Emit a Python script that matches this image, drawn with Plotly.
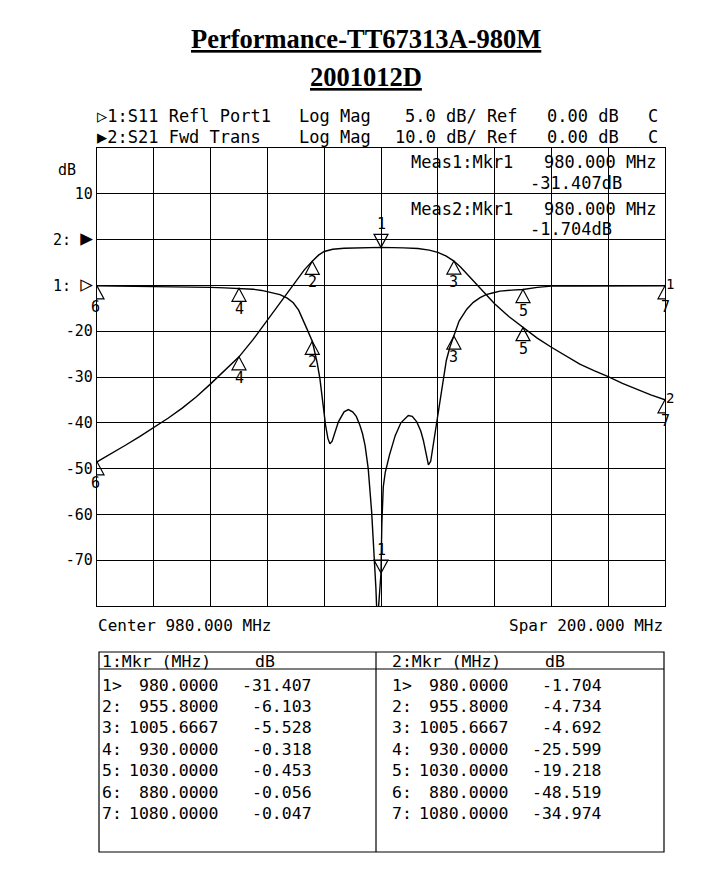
import plotly.graph_objects as go

# ---------------- data ----------------
freq_s11 = [880, 890, 900, 910, 920, 925, 930, 935, 938, 941, 944.4, 947, 949.1, 951, 952.5,
            954, 955.8, 957.5, 958.5, 959.7, 960.5, 961.3, 962.0, 962.8, 963.5, 965, 967,
            968.5, 970, 971.3, 972.6, 973.5, 974.4, 975.5, 976.7, 977.6, 978.2, 978.7,
            979.3, 980.0, 980.3, 980.8, 981.5, 983, 985, 987, 989.6, 991, 992.6, 994,
            994.9, 996, 996.7, 997.5, 998.3, 999, 1000.2, 1001.9, 1003, 1004.3, 1005.67,
            1007.5, 1010.2, 1012.5, 1014.9, 1017, 1019.6, 1021.9, 1026, 1030, 1035, 1040,
            1050, 1060, 1070, 1080]
s11_db = [-0.056, -0.08, -0.1, -0.15, -0.22, -0.27, -0.318, -0.42, -0.55, -0.75, -1.0, -1.4,
          -1.9, -2.7, -3.7, -4.8, -6.103, -8.4, -10.2, -13.3, -15.3, -16.7, -17.3, -17.0,
          -16.3, -14.9, -13.8, -13.55, -13.8, -14.3, -15.3, -16.2, -17.5, -20.0, -24.7,
          -29.1, -33.0, -37.0, -34.5, -31.407, -26.0, -22.0, -20.4, -18.5, -16.4, -15.0,
          -14.2, -14.3, -14.9, -15.9, -16.9, -18.6, -19.6, -19.2, -17.6, -15.7, -13.7,
          -10.2, -8.2, -6.7, -5.528, -3.9, -2.6, -1.85, -1.34, -1.0, -0.8, -0.62, -0.52,
          -0.453, -0.22, -0.08, -0.06, -0.05, -0.05, -0.047]

freq_s21 = [880, 885, 890, 895, 900, 905, 910, 915, 920, 925, 930, 935, 940, 945, 950, 953,
            955.8, 958, 960, 963, 967, 972, 980, 988, 993, 997, 1000, 1003, 1005.67, 1008,
            1011, 1015, 1020, 1025, 1030, 1035, 1040, 1045, 1050, 1055, 1060, 1065, 1070,
            1075, 1080]
s21_db = [-48.519, -46.8, -44.9, -43.0, -41.0, -39.0, -36.8, -34.3, -31.5, -28.6, -25.599,
          -21.8, -17.5, -13.2, -9.0, -6.6, -4.734, -3.4, -2.6, -2.1, -1.9, -1.8, -1.704,
          -1.8, -1.95, -2.3, -2.8, -3.6, -4.692, -6.0, -8.0, -10.8, -14.0, -16.8, -19.218,
          -21.5, -23.5, -25.4, -27.2, -28.6, -29.9, -31.4, -32.7, -33.9, -34.974]

mkr_ids = ["1", "2", "3", "4", "5", "6", "7"]
mkr_prefix = ["1>", "2:", "3:", "4:", "5:", "6:", "7:"]
mkr_freq = [980.0, 955.8, 1005.6667, 930.0, 1030.0, 880.0, 1080.0]
mkr_s11 = [-31.407, -6.103, -5.528, -0.318, -0.453, -0.056, -0.047]
mkr_s21 = [-1.704, -4.734, -4.692, -25.599, -19.218, -48.519, -34.974]

TRI_F = "<span style='font-size:21px'>\u25B6</span>"
TRI_O = "<span style='font-size:21px'>\u25B7</span>"
y_tickvals = [10, 0, -10, -20, -30, -40, -50, -60, -70]
y_ticktext = ["10", "2: " + TRI_F, "1: " + TRI_O, "-20", "-30", "-40", "-50", "-60", "-70"]

title_1 = "Performance-TT67313A-980M"
title_2 = "2001012D"

# ---------------- layout helpers ----------------
OFF = 8  # page body margin of the browser
W, H = 711 - OFF, 889 - OFF
L, R, T, B = 97 - OFF, 665 - OFF, 148 - OFF, 606 - OFF
MONO = "DejaVu Sans Mono"


def px(x):
    return (x - OFF - L) / (R - L)


def py(y):
    return (B - (y - OFF)) / (B - T)


fig = go.Figure()
fig.add_trace(go.Scatter(x=freq_s21, y=s21_db, mode="lines", yaxis="y",
                         line=dict(color="black", width=1.4), hoverinfo="skip"))
fig.add_trace(go.Scatter(x=freq_s11, y=s11_db, mode="lines", yaxis="y2",
                         line=dict(color="black", width=1.4), hoverinfo="skip"))

shapes = []
ann = []

# marker triangles + labels
for trace_ref, vals in (("y2", mkr_s11), ("y", mkr_s21)):
    for i, (f, v) in enumerate(zip(mkr_freq, vals)):
        if i == 0:
            path = "M0,0 L-7,13 L7,13 Z"
            yshift = 23
        else:
            path = "M0,0 L-7,-13 L7,-13 Z"
            yshift = -21
        shapes.append(dict(type="path", xref="x", yref=trace_ref, xsizemode="pixel",
                           ysizemode="pixel", xanchor=f, yanchor=v, path=path,
                           line=dict(color="black", width=1.2), layer="above"))
        ann.append(dict(x=f, y=v, xref="x", yref=trace_ref, text=mkr_ids[i],
                        showarrow=False, yshift=yshift, xshift=-2 if i == 5 else 0,
                        font=dict(family=MONO, size=15, color="black")))

# trace number tags at the right end
ann.append(dict(x=freq_s11[-1], y=s11_db[-1], xref="x", yref="y2", text="1", showarrow=False,
                xshift=5, yshift=2, font=dict(family=MONO, size=14, color="black")))
ann.append(dict(x=freq_s21[-1], y=s21_db[-1], xref="x", yref="y", text="2", showarrow=False,
                xshift=5, yshift=2, font=dict(family=MONO, size=14, color="black")))


def text(x, y, s, size=17, anchor="left", family=MONO):
    ann.append(dict(x=px(x), y=py(y), xref="paper", yref="paper", text=s, showarrow=False,
                    xanchor=anchor, yanchor="middle",
                    font=dict(family=family, size=size, color="black")))


# titles
text(366, 39, "<b><u>" + title_1 + "</u></b>", size=26.5, anchor="center", family="Liberation Serif")
text(366, 77, "<b><u>" + title_2 + "</u></b>", size=26.5, anchor="center", family="Liberation Serif")

# header rows
text(95, 116, "\u25B71:S11 Refl Port1")
text(297, 116, "Log Mag")
text(403, 116, "5.0 dB/ Ref")
text(545, 116, "0.00 dB")
text(646, 116, "C")
text(95, 137, "\u25B62:S21 Fwd Trans")
text(297, 137, "Log Mag")
text(393, 137, "10.0 dB/ Ref")
text(545, 137, "0.00 dB")
text(646, 137, "C")

text(56, 170, "dB", size=15)

# measurement readouts
text(409, 162, "Meas1:Mkr1")
text(542, 162, "980.000 MHz")
text(528, 183, "-31.407dB")
text(409, 209, "Meas2:Mkr1")
text(542, 209, "980.000 MHz")
text(528, 229, "-1.704dB")

# center / span
text(96, 625, "Center 980.000 MHz", size=16)
text(665, 625, "Spar 200.000 MHz", size=16, anchor="right")

# marker table
tb_l, tb_r, tb_t, tb_b, tb_mid, tb_hdr = 99, 664, 652, 852, 376, 669
shapes.append(dict(type="rect", xref="paper", yref="paper", x0=px(tb_l), x1=px(tb_r),
                   y0=py(tb_t), y1=py(tb_b), line=dict(color="black", width=1.2)))
shapes.append(dict(type="line", xref="paper", yref="paper", x0=px(tb_l), x1=px(tb_r),
                   y0=py(tb_hdr), y1=py(tb_hdr), line=dict(color="black", width=1.2)))
shapes.append(dict(type="line", xref="paper", yref="paper", x0=px(tb_mid), x1=px(tb_mid),
                   y0=py(tb_t), y1=py(tb_b), line=dict(color="black", width=1.2)))

text(100, 661, "1:Mkr (MHz)", size=16.5)
text(253, 661, "dB", size=16.5)
text(390, 661, "2:Mkr (MHz)", size=16.5)
text(543, 661, "dB", size=16.5)
for i in range(len(mkr_freq)):
    yy = 685 + 21.4 * i
    ftxt = f"{mkr_freq[i]:.4f}"
    text(100, yy, mkr_prefix[i], size=16.5)
    text(220, yy, ftxt, size=16.5, anchor="right")
    text(314, yy, f"{mkr_s11[i]:.3f}", size=16.5, anchor="right")
    text(390, yy, mkr_prefix[i], size=16.5)
    text(510, yy, ftxt, size=16.5, anchor="right")
    text(604, yy, f"{mkr_s21[i]:.3f}", size=16.5, anchor="right")

fig.update_layout(
    width=W, height=H,
    margin=dict(l=L, r=W - R, t=T, b=H - B, pad=0),
    paper_bgcolor="white", plot_bgcolor="white",
    showlegend=False,
    xaxis=dict(range=[880, 1080], tick0=880, dtick=20, showgrid=True, gridcolor="black",
               gridwidth=1.3, showticklabels=False, ticks="", zeroline=False,
               showline=True, linecolor="black", linewidth=1.3, mirror=True, fixedrange=True),
    yaxis=dict(range=[-80, 20], tickmode="array", tickvals=y_tickvals, ticktext=y_ticktext,
               showgrid=True, gridcolor="black", gridwidth=1.3, zeroline=False,
               showline=True, linecolor="black", linewidth=1.3, mirror=True, ticks="",
               tickfont=dict(family=MONO, size=15, color="black"), fixedrange=True),
    yaxis2=dict(range=[-35, 15], overlaying="y", side="right", showgrid=False,
                showticklabels=False, zeroline=False, showline=False, ticks="",
                fixedrange=True),
    shapes=shapes,
    annotations=ann,
)

fig.write_html("out.html")
